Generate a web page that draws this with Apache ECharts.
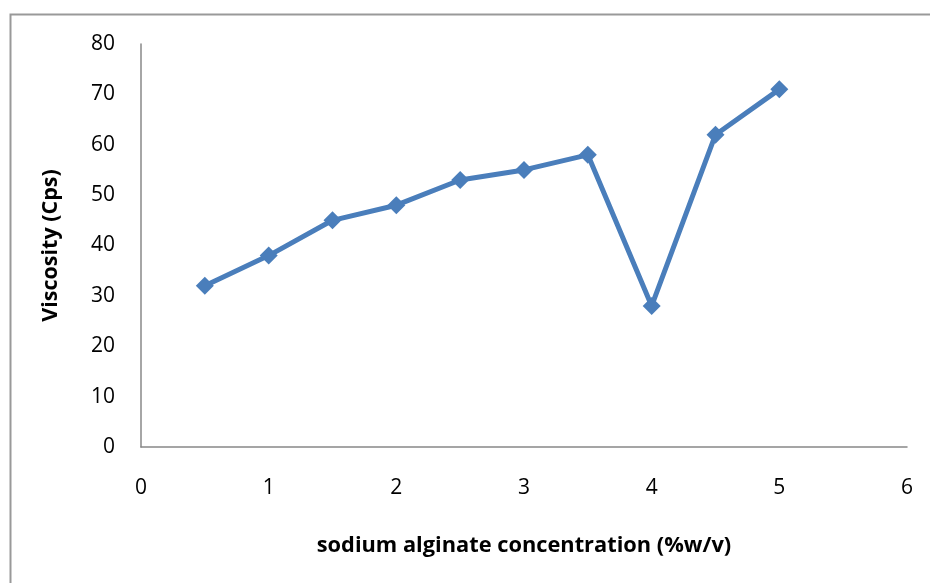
<!DOCTYPE html>
<html>
<head>
<meta charset="utf-8">
<script src="https://cdn.jsdelivr.net/npm/echarts@6/dist/echarts.min.js"></script>
<style>html,body{margin:0;padding:0;background:#fff}#c{width:930px;height:583px}</style>
</head>
<body>
<div id="c"></div>
<script>
const concentration = [0.5, 1, 1.5, 2, 2.5, 3, 3.5, 4, 4.5, 5];
const viscosity = [32, 38, 45, 48, 53, 55, 58, 28, 62, 71];
const xTitle = 'sodium alginate concentration (%w/v)';
const yTitle = 'Viscosity (Cps)';

const chart = echarts.init(document.getElementById('c'), null, {renderer: 'canvas'});
chart.setOption({
  animation: false,
  backgroundColor: '#fff',
  graphic: [{
    type: 'rect', left: 8, top: 12, z: -1,
    shape: {width: 940, height: 600},
    style: {fill: 'none', stroke: '#999', lineWidth: 2}
  }],
  grid: {left: 141, right: 23, top: 44, bottom: 136, containLabel: false},
  xAxis: {
    type: 'value', min: 0, max: 6, interval: 1,
    name: xTitle, nameLocation: 'middle', nameGap: 88,
    nameTextStyle: {fontFamily: 'Open Sans', fontWeight: 'bold', fontSize: 21.8, color: '#000'},
    axisLine: {show: true, onZero: false, lineStyle: {color: '#888', width: 1.5}},
    axisTick: {show: false},
    splitLine: {show: false},
    axisLabel: {margin: 31, fontFamily: 'Open Sans', fontSize: 21, color: '#000'}
  },
  yAxis: {
    type: 'value', min: 0, max: 80, interval: 10,
    name: yTitle, nameLocation: 'middle', nameGap: 79, nameRotate: 90,
    nameTextStyle: {fontFamily: 'Open Sans', fontWeight: 'bold', fontSize: 21.5, color: '#000'},
    axisLine: {show: true, lineStyle: {color: '#888', width: 1.5}},
    axisTick: {show: false},
    splitLine: {show: false},
    axisLabel: {margin: 26, fontFamily: 'Open Sans', fontSize: 21, color: '#000'}
  },
  series: [{
    type: 'line',
    data: concentration.map((x, i) => [x, viscosity[i]]),
    symbol: 'diamond', symbolSize: 18,
    lineStyle: {color: '#4a7ebb', width: 5},
    itemStyle: {color: '#4a7ebb'}
  }]
});
</script>
</body>
</html>
